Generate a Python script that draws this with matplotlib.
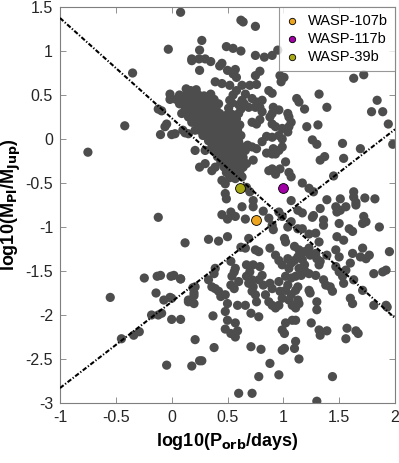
import matplotlib
matplotlib.use("Agg")
import matplotlib.pyplot as plt
import numpy as np

plt.rcParams['font.family'] = ['Liberation Sans', 'DejaVu Sans']

# ---- data (log10 P_orb [days], log10 M_pl [M_Jup]) ----
outer_upper = [
    (-0.03, 1.02), (-0.35, 0.75), (-0.42, 0.15), (-0.75, -0.15), (-0.10, 0.05),
    (-0.12, 0.34), (-0.09, 0.32), (-0.045, 0.17), (-0.06, 0.14), (-0.015, 0.51),
    (-0.015, 0.45), (0.0, 0.05), (0.08, 1.44), (0.18, 0.89), (0.10, 0.10),
    (0.12, 0.07), (0.18, 0.33), (0.22, 0.30), (0.14, 0.50), (0.20, 0.46), (0.17, 0.55),
    (0.62, 1.35), (0.64, 1.33), (0.75, 1.28), (0.27, 1.12), (0.25, 1.01), (0.49, 1.05),
    (0.55, 1.03), (0.62, 1.00), (0.18, 0.91), (0.245, 0.91), (0.30, 0.91), (0.35, 0.88),
    (0.45, 0.86), (0.43, 0.83), (0.75, 0.95), (0.83, 0.93), (0.90, 0.95), (0.95, 1.01),
    (0.25, 0.78), (0.50, 0.78), (0.55, 0.74), (0.57, 0.79), (0.58, 0.70), (0.75, 0.72),
    (0.79, 0.77), (0.97, 0.72), (0.98, 0.65), (0.13, 0.57), (0.39, 0.65), (0.45, 0.63),
    (0.52, 0.61), (0.63, 0.61), (0.70, 0.61), (0.76, 0.62), (0.87, 0.55), (0.90, 0.52),
    (0.72, 0.46), (0.76, 0.42), (0.81, 0.44), (0.69, 0.36), (0.75, 0.36), (0.79, 0.36),
    (0.91, 0.36), (0.96, 0.33), (0.90, 0.29), (0.72, 0.19), (0.76, 0.17), (0.90, 0.17),
    (0.93, 0.14), (0.96, 0.04), (0.90, 0.02), (0.99, 0.12), (0.99, 0.0), (0.99, -0.09),
    (0.81, -0.03), (0.76, -0.11), (0.72, -0.09), (0.90, -0.17), (0.93, -0.17), (0.96, -0.13),
    (0.87, -0.36), (0.90, -0.34), (0.67, -0.28), (0.73, -0.24), (0.03, 0.06), (0.21, -0.13),
    (0.25, -0.32), (0.30, -0.28), (0.36, -0.36), (0.39, -0.32), (0.45, -0.47), (0.48, -0.51),
    (0.48, -0.62), (0.49, -0.68), (0.67, -0.55), (0.70, -0.60), (0.73, -0.70), (0.12, 0.36),
    (0.09, 0.29), (0.15, 0.25), (0.18, 0.19), (0.21, 0.10), (0.15, 0.06), (0.33, -0.02),
    (0.36, -0.09), (0.30, -0.13), (0.85, 0.03), (0.88, 0.25), (0.81, 0.31), (0.79, 0.22),
    (0.85, -0.16), (0.91, -0.11), (0.97, -0.34), (0.93, -0.40),
]

outer_right = [
    (1.006, 0.70), (1.63, 0.69), (1.72, 0.73), (1.12, 0.46), (1.14, 0.42), (1.32, 0.51),
    (1.19, 0.34), (1.39, 0.36), (1.04, 0.29), (1.05, 0.25), (1.07, 0.19), (1.05, 0.14),
    (1.04, 0.08), (1.84, 0.44), (1.79, 0.31), (1.89, 0.31), (1.21, 0.14), (1.31, 0.16),
    (1.94, 0.17), (1.98, -0.06), (1.26, -0.01), (1.30, -0.06), (1.53, -0.05), (1.69, -0.11),
    (1.37, -0.20), (1.33, -0.24), (1.54, -0.22), (1.02, -0.26), (1.05, -0.38), (1.07, -0.43),
    (1.45, -0.42), (1.17, -0.50), (1.23, -0.56), (1.27, -0.60), (1.39, -0.69), (1.51, -0.68),
    (1.63, -0.60), (1.63, -0.66), (1.65, -0.72), (1.82, -0.68), (1.07, -0.70), (1.73, -0.67),
]

outer_lower_left = [
    (-0.12, -0.89), (-0.245, -1.58), (-0.13, -1.56), (-0.10, -1.55), (-0.006, -1.56),
    (-0.55, -1.80), (-0.14, -1.75), (-0.07, -1.83), (-0.015, -1.80), (-0.18, -2.0),
    (-0.12, -2.0), (-0.09, -1.98), (-0.45, -2.27), (-0.34, -2.23), (-0.29, -2.19),
    (-0.045, -2.57), (0.12, -1.18), (0.08, -1.59), (0.19, -1.69), (0.20, -1.78),
    (0.15, -1.85), (0.25, -2.52), (0.0, -2.05),
]

outer_lower_mid = [
    (0.45, -0.86), (0.50, -0.91), (0.53, -0.83), (0.57, -0.88), (0.63, -0.77), (0.66, -0.91),
    (0.73, -0.77), (0.82, -0.82), (0.87, -0.90), (0.90, -0.98), (0.91, -1.03), (0.96, -0.83),
    (0.99, -0.88), (0.33, -1.14), (0.42, -1.16), (0.50, -1.11), (0.69, -1.13), (0.66, -1.24),
    (0.75, -1.26), (0.78, -1.28), (0.62, -1.23), (0.88, -1.24), (0.93, -1.32), (0.96, -1.38),
    (0.99, -1.43), (0.53, -1.39), (0.56, -1.51), (0.57, -1.47), (0.54, -1.56), (0.53, -1.66),
    (0.60, -1.62), (0.56, -1.70), (0.39, -1.47), (0.38, -1.53), (0.33, -1.60), (0.36, -1.68),
    (0.39, -1.70), (0.42, -1.73), (0.44, -1.79), (0.48, -1.77), (0.21, -1.68), (0.20, -1.75),
    (0.15, -1.83), (0.20, -1.87), (0.02, -1.55), (0.08, -1.59), (0.0, -1.81), (0.67, -1.43),
    (0.73, -1.43), (0.70, -1.51), (0.67, -1.56), (0.72, -1.60), (0.69, -1.64), (0.73, -1.68),
    (0.72, -1.73), (0.75, -1.77), (0.76, -1.85), (0.79, -1.45), (0.81, -1.55), (0.78, -1.60),
    (0.82, -1.66), (0.84, -1.77), (0.87, -1.85), (0.90, -1.89), (0.93, -1.92), (0.88, -1.64),
    (0.90, -1.70), (0.96, -1.62), (0.97, -1.73), (0.99, -1.81), (0.96, -1.89), (0.59, -1.89),
    (0.66, -1.89), (0.71, -1.98), (0.78, -2.02), (0.50, -1.87), (0.48, -1.96), (0.50, -2.06),
    (0.37, -2.01), (0.08, -2.05), (0.57, -2.09), (0.48, -2.16), (0.53, -2.21), (0.57, -2.25),
    (0.59, -2.18), (0.99, -2.17), (0.21, -2.28), (0.38, -2.37), (0.71, -2.36), (0.80, -2.39),
    (0.99, -2.40), (0.27, -2.52), (0.18, -2.58), (0.88, -2.55), (0.96, -2.68), (0.78, -2.70),
    (0.60, -2.89), (0.72, -2.89),
]

outer_lower_right = [
    (1.13, -0.81), (1.17, -0.84), (1.33, -0.79), (1.47, -0.77), (1.56, -0.77), (1.48, -0.83),
    (1.51, -0.81), (1.65, -0.75), (1.27, -0.87), (1.26, -0.89), (1.36, -0.92), (1.36, -0.98),
    (1.50, -0.96), (1.72, -0.88), (1.74, -0.94), (1.71, -0.96), (1.86, -1.0), (1.07, -0.94),
    (1.04, -1.0), (1.13, -1.02), (1.17, -1.02), (1.23, -1.08), (1.29, -1.07), (1.59, -1.02),
    (1.62, -1.05), (1.48, -1.11), (1.54, -1.15), (1.32, -1.17), (1.01, -1.13), (1.02, -1.17),
    (1.10, -1.22), (1.14, -1.26), (1.19, -1.28), (1.23, -1.24), (1.24, -1.32), (1.29, -1.30),
    (1.30, -1.36), (1.33, -1.39), (1.32, -1.43), (1.39, -1.32), (1.47, -1.26), (1.50, -1.34),
    (1.62, -1.30), (1.71, -1.24), (1.69, -1.34), (1.74, -1.36), (1.77, -1.32), (1.95, -1.28),
    (1.04, -1.36), (1.07, -1.41), (1.05, -1.47), (1.10, -1.38), (1.13, -1.34), (1.17, -1.37),
    (1.19, -1.43), (1.14, -1.47), (1.20, -1.51), (1.16, -1.55), (1.11, -1.56), (1.07, -1.58),
    (1.02, -1.56), (1.23, -1.53), (1.29, -1.55), (1.47, -1.45), (1.50, -1.51), (1.56, -1.49),
    (1.53, -1.56), (1.60, -1.41), (1.81, -1.53), (1.89, -1.51), (1.92, -1.49), (1.36, -1.60),
    (1.38, -1.66), (1.42, -1.68), (1.44, -1.73), (1.54, -1.64), (1.63, -1.60), (1.71, -1.72),
    (1.23, -1.72), (1.24, -1.75), (1.13, -1.68), (1.11, -1.72), (1.04, -1.66), (1.02, -1.72),
    (1.07, -1.77), (1.05, -1.83), (1.08, -1.89), (1.11, -1.92), (1.14, -1.87), (1.13, -1.83),
    (1.30, -1.85), (1.30, -1.94), (1.60, -1.81), (1.62, -1.87), (1.81, -1.89), (1.92, -1.89),
    (1.93, -1.91), (1.08, -2.06), (1.11, -2.06), (1.02, -2.09), (1.25, -2.09), (1.32, -2.17),
    (1.33, -2.23), (1.39, -2.18), (1.57, -2.15), (1.65, -2.18), (1.67, -2.21), (1.56, -2.27),
    (1.01, -2.21), (1.11, -2.30), (1.10, -2.38), (1.01, -2.38), (1.14, -2.50), (1.44, -2.70),
    (1.30, -2.98),
]

dense_core = [
    (0.22, 0.56), (0.58, 0.55),
    (0.07, 0.50), (0.12, 0.49), (0.18, 0.51), (0.24, 0.50), (0.29, 0.49), (0.35, 0.51),
    (0.55, 0.50), (0.66, 0.51),
    (0.04, 0.45), (0.09, 0.44), (0.15, 0.46), (0.21, 0.44), (0.27, 0.45), (0.32, 0.43),
    (0.38, 0.45), (0.52, 0.44), (0.63, 0.44),
    (0.07, 0.40), (0.13, 0.39), (0.19, 0.41), (0.25, 0.39), (0.30, 0.40), (0.36, 0.38),
    (0.42, 0.40), (0.54, 0.41), (0.60, 0.39), (0.65, 0.40),
    (0.16, 0.34), (0.22, 0.35), (0.28, 0.33), (0.34, 0.35), (0.40, 0.33),
    (0.51, 0.35), (0.62, 0.34),
    (0.14, 0.28), (0.20, 0.27), (0.26, 0.29), (0.31, 0.27), (0.37, 0.28), (0.43, 0.29),
    (0.49, 0.27), (0.54, 0.28), (0.60, 0.29),
    (0.19, 0.22), (0.24, 0.23), (0.29, 0.21), (0.35, 0.22), (0.41, 0.23), (0.47, 0.21),
    (0.52, 0.22), (0.58, 0.23),
    (0.23, 0.16), (0.28, 0.15), (0.33, 0.17), (0.39, 0.15), (0.45, 0.16), (0.50, 0.17),
    (0.56, 0.15), (0.61, 0.16),
    (0.25, 0.10), (0.31, 0.11), (0.36, 0.09), (0.42, 0.10), (0.48, 0.11), (0.53, 0.09),
    (0.59, 0.10),
    (0.28, 0.04), (0.34, 0.03), (0.40, 0.05), (0.45, 0.04), (0.51, 0.03), (0.57, 0.05),
    (0.62, 0.04),
    (0.37, -0.01), (0.43, -0.03), (0.49, -0.02), (0.54, -0.01), (0.60, -0.03),
    (0.40, -0.08), (0.46, -0.09), (0.52, -0.07), (0.57, -0.08), (0.63, -0.09), (0.68, -0.07),
    (0.38, -0.14), (0.44, -0.15), (0.50, -0.13), (0.55, -0.14), (0.61, -0.15), (0.66, -0.13),
    (0.41, -0.20), (0.47, -0.21), (0.53, -0.19), (0.58, -0.20), (0.64, -0.21),
    (0.44, -0.26), (0.50, -0.27), (0.56, -0.25), (0.62, -0.26),
    (0.47, -0.32), (0.53, -0.33), (0.59, -0.31), (0.64, -0.32),
    (0.49, -0.38), (0.55, -0.39), (0.61, -0.37),
    (0.52, -0.44), (0.57, -0.45), (0.63, -0.43),
]

highlight_names = ['WASP-107b', 'WASP-117b', 'WASP-39b']
highlight_logp = [0.757, 1.001, 0.608]
highlight_logm = [-0.92, -0.56, -0.553]
highlight_colors = ['#EDA51F', '#A000A6', '#A8A814']

# dividing lines: (logP, logM) at the x-limits
line_a_logp = [-1.0, 2.0]
line_a_logm = [1.375, -2.035]
line_b_logp = [-1.0, 2.0]
line_b_logm = [-2.83, 0.11]

xticks = [-1, -0.5, 0, 0.5, 1, 1.5, 2]
xticklabels = ['-1', '-0.5', '0', '0.5', '1', '1.5', '2']
yticks = [-3, -2.5, -2, -1.5, -1, -0.5, 0, 0.5, 1, 1.5]
yticklabels = ['-3', '-2.5', '-2', '-1.5', '-1', '-0.5', '0', '0.5', '1', '1.5']

# ---- plot ----
fig = plt.figure(figsize=(3.99, 4.63), dpi=100)
ax = fig.add_axes([60 / 399, 60 / 463, 335 / 399, 396 / 463])

gray = outer_upper + outer_right + outer_lower_left + outer_lower_mid + outer_lower_right + dense_core
gx = [p[0] for p in gray]
gy = [p[1] for p in gray]
ax.scatter(gx, gy, s=44, color='#4d4d4d', edgecolors='none', zorder=2)

dash = (2.2, 0.9, 0.6, 0.9)
ax.plot(line_a_logp, line_a_logm, color='black', lw=1.5, dashes=dash, zorder=3)
ax.plot(line_b_logp, line_b_logm, color='black', lw=1.5, dashes=dash, zorder=3)

for name, xp, yp, c in zip(highlight_names, highlight_logp, highlight_logm, highlight_colors):
    ax.scatter([xp], [yp], s=50, color=c, edgecolors='black', linewidths=0.6,
               zorder=4, label=name)

ax.set_xlim(-1, 2)
ax.set_ylim(-3, 1.5)
ax.set_xticks(xticks)
ax.set_xticklabels(xticklabels)
ax.set_yticks(yticks)
ax.set_yticklabels(yticklabels)
ax.tick_params(direction='in', length=4, width=0.6, top=True, right=True,
               labelsize=11.5, labelcolor='#262626', color='#7f7f7f', pad=5)
for sp in ax.spines.values():
    sp.set_color('#7f7f7f')
    sp.set_linewidth(0.8)

ax.set_xlabel(r'log10(P$_{\mathbf{orb}}$/days)', fontsize=13, fontweight='bold', labelpad=4)
ax.set_ylabel(r'log10(M$_{\mathbf{Pl}}$/M$_{\mathbf{Jup}}$)', fontsize=13, fontweight='bold', labelpad=2)

leg = ax.legend(loc='upper right', bbox_to_anchor=(1.0, 1.0), borderaxespad=0,
                fontsize=10.5, frameon=True, fancybox=False, handletextpad=0.6,
                borderpad=0.45, labelspacing=0.3, markerscale=0.65, handlelength=1.0)
leg.get_frame().set_edgecolor('#7f7f7f')
leg.get_frame().set_linewidth(0.8)
leg.set_zorder(5)

fig.savefig('out.png', dpi=100)
